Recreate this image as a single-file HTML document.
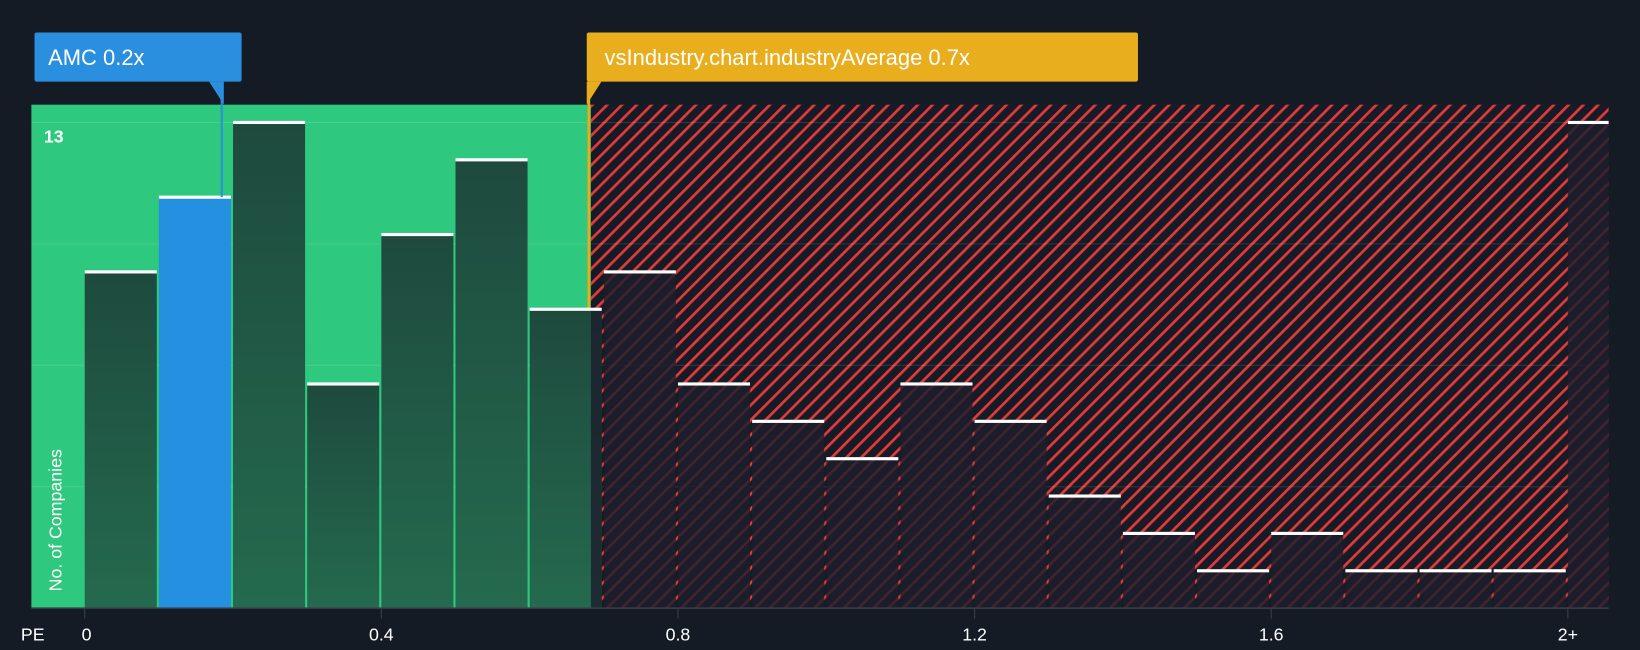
<!DOCTYPE html>
<html><head><meta charset="utf-8"><style>
html,body{margin:0;padding:0;background:#151b24;}
svg{display:block}
text{font-family:"Liberation Sans",sans-serif;}
</style></head><body>
<svg width="1640" height="650" viewBox="0 0 1568 621" preserveAspectRatio="none">
<defs>
<pattern id="hatch" patternUnits="userSpaceOnUse" width="10" height="10" patternTransform="rotate(45)">
<rect width="10" height="10" fill="#161b25"/>
<rect x="0" y="0" width="2.6" height="10" fill="#e0393e"/>
</pattern>
<linearGradient id="gbar" x1="0" y1="0" x2="0" y2="1"><stop offset="0" stop-color="#1e4a3e"/><stop offset="1" stop-color="#246a4e"/></linearGradient>
</defs>
<rect x="0" y="0" width="1568" height="621" fill="#151b24"/>
<rect x="30" y="100" width="535" height="481" fill="#2ec97e"/>
<rect x="565" y="100" width="973" height="481" fill="url(#hatch)"/>
<g id="grid"></g>
<line x1="563" y1="78" x2="563" y2="581" stroke="#f0a818" stroke-width="2.5"/>
<g id="bars"></g>
<line x1="30" y1="581" x2="1538" y2="581" stroke="#3a404a" stroke-width="1.5"/>
<g id="ticks"></g>
<text x="20" y="612" fill="#ffffff" font-size="17">PE</text>
<text x="42" y="136" fill="#ffffff" font-size="17" font-weight="bold">13</text>
<text transform="translate(59,565) rotate(-90)" fill="#ffffff" font-size="17">No. of Companies</text>
<g>
<rect x="561" y="31" width="527" height="47" rx="2" fill="#e9ae1d"/>
<polygon points="561,78 575,78 561,100" fill="#e9ae1d"/>
<text x="578" y="62" fill="#ffffff" font-size="21">vsIndustry.chart.industryAverage 0.7x</text>
</g>
<line id="amcline" x1="212" y1="78" x2="212" y2="187" stroke="#2b8fdf" stroke-width="2"/>
<g>
<rect x="33" y="31" width="198" height="47" rx="2" fill="#2b8fdf"/>
<polygon points="200,78 214,78 214,100" fill="#2b8fdf"/>
<text x="46" y="62" fill="#ffffff" font-size="21">AMC 0.2x</text>
</g>
<script>
const binStarts=[0,0.1,0.2,0.3,0.4,0.5,0.6,0.7,0.8,0.9,1.0,1.1,1.2,1.3,1.4,1.5,1.6,1.7,1.8,1.9,2.0];
const counts=[9,11,13,6,10,12,8,9,6,5,4,6,5,3,2,1,2,1,1,1,13];
const tickValues=[0,0.4,0.8,1.2,1.6,2.0];
const tickLabels=["0","0.4","0.8","1.2","1.6","2+"];
const gridValues=[3.25,6.5,9.75,13];
const highlightBin=1;
const yMax=13;
const NS="http://www.w3.org/2000/svg";
function xs(v){return 81+v*709;}
function ys(v){return 581-v*(464/yMax);}
const grid=document.getElementById('grid');
gridValues.forEach(g=>{const l=document.createElementNS(NS,'line');


l.setAttribute('x1',30);l.setAttribute('x2',1538);l.setAttribute('y1',ys(g));l.setAttribute('y2',ys(g));
l.setAttribute('stroke','rgba(255,255,255,0.12)');l.setAttribute('stroke-width',1);grid.appendChild(l);});
const bars=document.getElementById('bars');
binStarts.forEach((b,i)=>{
 const x0=xs(b), x1=Math.min(xs(b+0.1)-2,1538), y=ys(counts[i]);
 const r=document.createElementNS(NS,'rect');
 
 
 r.setAttribute('x',x0);r.setAttribute('y',y);r.setAttribute('width',x1-x0);r.setAttribute('height',581-y);
 let fill;
 if(i===highlightBin) fill='#2590e0';
 else if(x0<560) fill='url(#gbar)';
 else fill='rgba(28,30,44,0.82)';
 r.setAttribute('fill',fill);bars.appendChild(r);
 if(x0<560 && x1>565 && i!==highlightBin){
  const r2=document.createElementNS(NS,'rect');
  
  
  r2.setAttribute('x',565);r2.setAttribute('y',y);r2.setAttribute('width',x1-565);r2.setAttribute('height',581-y);
  r2.setAttribute('fill','rgba(28,30,44,0.82)');bars.appendChild(r2);}
 const c=document.createElementNS(NS,'rect');
 
 
 c.setAttribute('x',x0);c.setAttribute('y',y-1.5);c.setAttribute('width',x1-x0);c.setAttribute('height',3);c.setAttribute('fill','#ffffff');bars.appendChild(c);
});
document.getElementById('amcline').setAttribute('y2',ys(counts[highlightBin]));
const ticks=document.getElementById('ticks');
tickValues.forEach((t,i)=>{
 const l=document.createElementNS(NS,'line');
 
 
 l.setAttribute('x1',xs(t));l.setAttribute('x2',xs(t));l.setAttribute('y1',581);l.setAttribute('y2',591);l.setAttribute('stroke','#3a404a');ticks.appendChild(l);
 const tx=document.createElementNS(NS,'text');
 
 
 tx.setAttribute('x',i===0?xs(t)-3:xs(t));tx.setAttribute('y',612);tx.setAttribute('fill','#ffffff');tx.setAttribute('font-size','17');
 tx.setAttribute('text-anchor',i===0?'start':'middle');
 tx.textContent=tickLabels[i];ticks.appendChild(tx);});
</script>
</svg>
</body></html>
